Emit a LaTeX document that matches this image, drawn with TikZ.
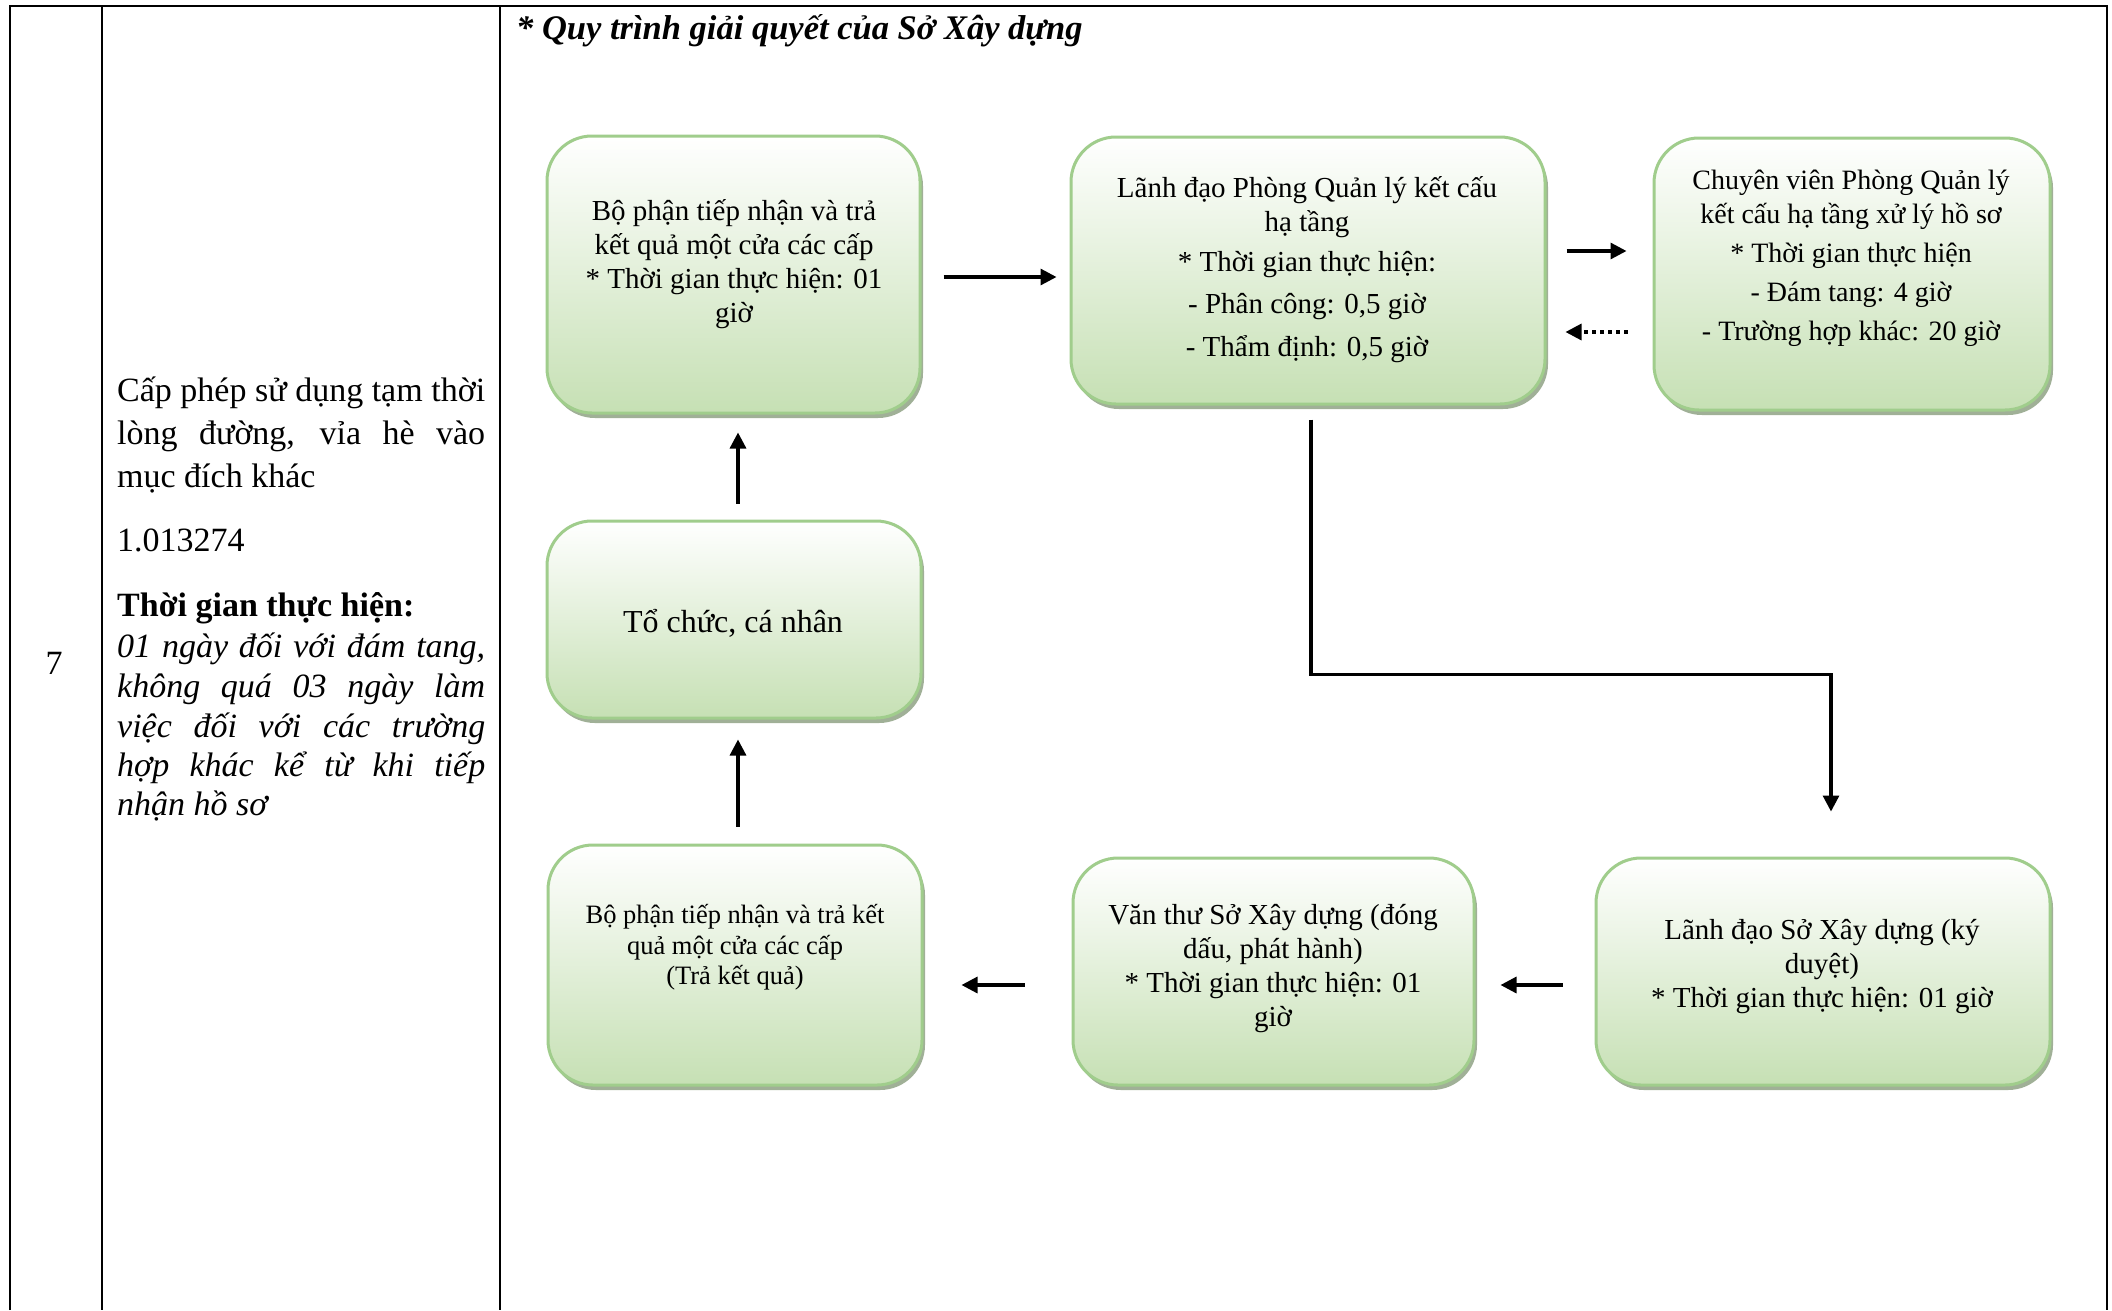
\documentclass[tikz,border=0pt]{standalone}
\usepackage{fontspec}
\setmainfont{Liberation Serif}
\usetikzlibrary{arrows.meta,shadows}
\definecolor{boxborder}{RGB}{160,205,140}
\definecolor{boxfill}{RGB}{198,224,180}
\definecolor{boxshadow}{RGB}{150,168,140}
\begin{document}
\begin{tikzpicture}[x=1pt,y=-1pt,
  flowbox/.style={draw=boxborder, line width=3pt, rounded corners=45pt,
    top color=white, bottom color=boxfill,
    drop shadow={shadow xshift=3pt, shadow yshift=-5pt, fill=boxshadow, opacity=0.9},
    inner sep=0pt},
  boxtext/.style={align=center, inner sep=0pt, font=\fontsize{29}{34}\selectfont},
  coltext/.style={inner sep=0pt, anchor=base west, font=\fontsize{34}{43}\selectfont},
  arr/.style={line width=3.2pt, -{Triangle[length=16pt,width=16pt]}},
  dotarr/.style={line width=3.2pt, dash pattern=on 4pt off 4pt, -{Triangle[length=16pt,width=16pt]}},
  gridline/.style={line width=2.5pt}]
% background / bounding box
\fill[white] (0,0) rectangle (2112,1310);
\useasboundingbox (0,0) rectangle (2112,1310);
% table lines
\draw[gridline] (10,1310) -- (10,6) -- (2107,6) -- (2107,1310);
\draw[gridline] (102,6) -- (102,1310);
\draw[gridline] (500,6) -- (500,1310);
% column 1
\node[inner sep=0pt, font=\fontsize{34}{43}\selectfont] (num) at (54,663) {7};
% column 2
\node[coltext] (c1) at (117,401) {\makebox[368pt][s]{Cấp phép sử dụng tạm thời}};
\node[coltext] (c2) at (117,444) {\makebox[368pt][s]{lòng đường, vỉa hè vào}};
\node[coltext] (c3) at (117,487) {mục đích khác};
\node[coltext] (c4) at (117,551) {1.013274};
\node[coltext] (c5) at (117,616) {\bfseries Thời gian thực hiện:};
\node[coltext] (c6) at (117,657) {\itshape\makebox[368pt][s]{01 ngày đối với đám tang,}};
\node[coltext] (c7) at (117,697) {\itshape\makebox[368pt][s]{không quá 03 ngày làm}};
\node[coltext] (c8) at (117,737) {\itshape\makebox[368pt][s]{việc đối với các trường}};
\node[coltext] (c9) at (117,776) {\itshape\makebox[368pt][s]{hợp khác kể từ khi tiếp}};
\node[coltext] (c10) at (117,815) {\itshape nhận hồ sơ};
% title
\node[coltext, font=\fontsize{34.5}{43}\selectfont] (title) at (516,39) {\bfseries\itshape * Quy trình giải quyết của Sở Xây dựng};
% boxes
\node[flowbox, minimum width=373pt, minimum height=277pt] (A) at (733.5,274.5) {};
\node[flowbox, minimum width=474pt, minimum height=267pt] (B) at (1308,270.5) {};
\node[flowbox, minimum width=396pt, minimum height=272pt] (C) at (1852,274) {};
\node[flowbox, minimum width=374pt, minimum height=197pt] (D) at (734,619.5) {};
\node[flowbox, minimum width=374pt, minimum height=240pt] (E) at (735,965) {};
\node[flowbox, minimum width=401pt, minimum height=227pt] (F) at (1273.5,971.5) {};
\node[flowbox, minimum width=454pt, minimum height=227pt] (G) at (1823,971.5) {};
% box texts
\node[boxtext] (At) at (734,264.5) {Bộ phận tiếp nhận và trả\\kết quả một cửa các cấp\\* Thời gian thực hiện: 01\\giờ};
\node[boxtext] (Bt) at (1307,270) {Lãnh đạo Phòng Quản lý kết cấu\\hạ tầng\\[6pt]* Thời gian thực hiện:\\[8pt]- Phân công: 0,5 giờ\\[9pt]- Thẩm định: 0,5 giờ};
\node[boxtext, font=\fontsize{28}{34}\selectfont] (Ct) at (1851,258.5) {Chuyên viên Phòng Quản lý\\kết cấu hạ tầng xử lý hồ sơ\\[5pt]* Thời gian thực hiện\\[5pt]- Đám tang: 4 giờ\\[5pt]- Trường hợp khác: 20 giờ};
\node[boxtext, font=\fontsize{32}{38}\selectfont] (Dt) at (733,623) {Tổ chức, cá nhân};
\node[boxtext, font=\fontsize{26.5}{30.5}\selectfont] (Et) at (735,947.5) {Bộ phận tiếp nhận và trả kết\\quả một cửa các cấp\\(Trả kết quả)};
\node[boxtext] (Ft) at (1273,969) {Văn thư Sở Xây dựng (đóng\\dấu, phát hành)\\* Thời gian thực hiện: 01\\giờ};
\node[boxtext] (Gt) at (1822,967) {Lãnh đạo Sở Xây dựng (ký\\duyệt)\\* Thời gian thực hiện: 01 giờ};
% connectors
\draw[arr, shorten <=22pt, shorten >=13pt] ([yshift=-2.5pt]A.east) -- ([yshift=-2.5pt]A.east -| B.west);
\draw[arr, shorten <=20pt, shorten >=26pt] ([yshift=19.5pt]B.east) -- ([yshift=19.5pt]B.east -| C.west);
\draw[dotarr, shorten <=25pt, shorten >=19pt] ([yshift=-58pt]C.west) -- ([yshift=-58pt]C.west -| B.east);
\draw[arr, shorten <=14pt, shorten >=45pt] ([xshift=3pt]B.south) -- ++(0,269) -| ([xshift=8pt]G.north);
\draw[arr, shorten <=32pt, shorten >=25pt] ([yshift=-13.5pt]G.west) -- ([yshift=-13.5pt]G.west -| F.east);
\draw[arr, shorten <=47pt, shorten >=38pt] ([yshift=-13.5pt]F.west) -- ([yshift=-13.5pt]F.west -| E.east);
\draw[arr, shorten <=17pt, shorten >=20pt] ([xshift=3pt]E.north) -- ([xshift=3pt]E.north |- D.south);
\draw[arr, shorten <=16pt, shorten >=18pt] ([xshift=4pt]D.north) -- ([xshift=4pt]D.north |- A.south);
\end{tikzpicture}
\end{document}
